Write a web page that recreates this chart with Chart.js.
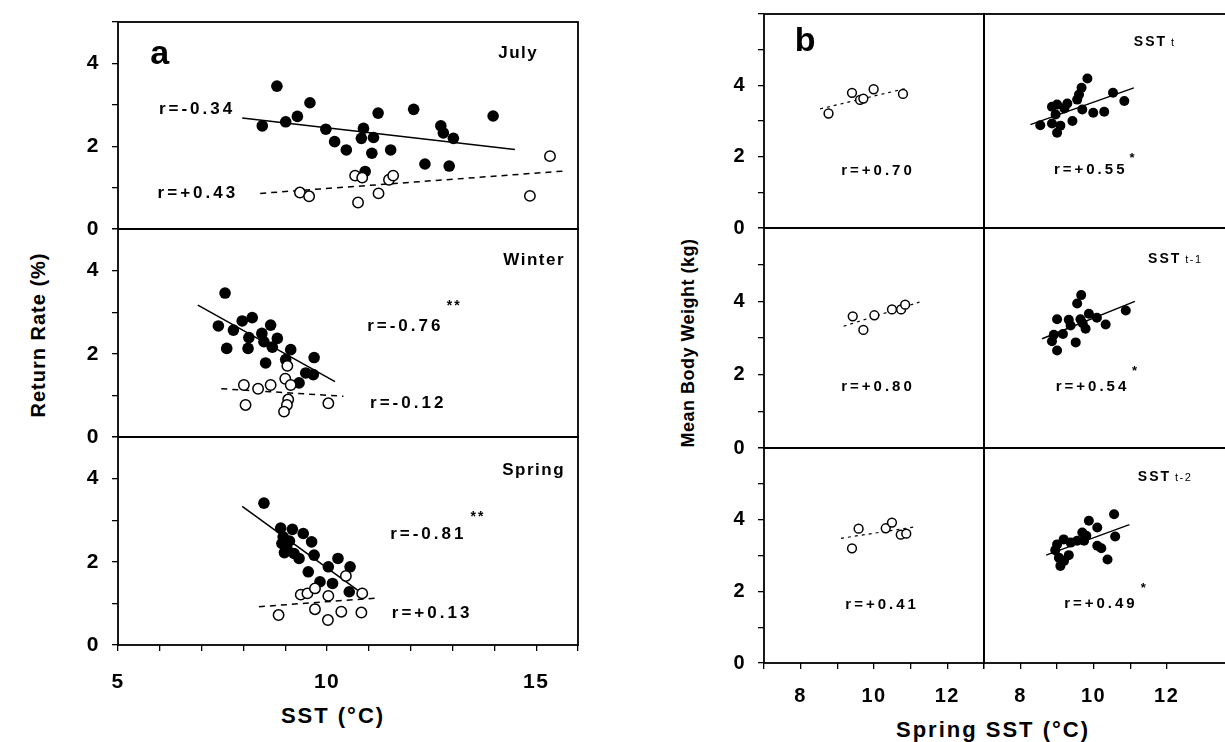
<!DOCTYPE html>
<html>
<head>
<meta charset="utf-8">
<script src="https://cdn.jsdelivr.net/npm/chart.js@4.4.1/dist/chart.umd.min.js"></script>
<style>
  body { margin: 0; background: #fff; }
  #fig { position: relative; width: 1225px; height: 742px; overflow: hidden; background: #fff;
         font-family: "Liberation Sans", Arial, sans-serif; font-weight: bold; color: #000; }
  #fig canvas { position: absolute; }
  .ttl { position: absolute; white-space: nowrap; }
</style>
</head>
<body>
<div id="fig">
  <div class="ttl" style="left:38px;top:335px;font-size:20px;letter-spacing:1px;transform:translate(-50%,-50%) rotate(-90deg)">Return Rate (%)</div>
  <div class="ttl" style="left:333px;top:716px;font-size:22px;letter-spacing:2px;transform:translate(-50%,-50%)">SST (°C)</div>
  <div class="ttl" style="left:688px;top:343px;font-size:18px;letter-spacing:0.5px;transform:translate(-50%,-50%) rotate(-90deg)">Mean Body Weight (kg)</div>
  <div class="ttl" style="left:993px;top:730px;font-size:22px;letter-spacing:2px;transform:translate(-50%,-50%)">Spring SST (°C)</div>
</div>
<script>
// ---------- panel a : return rate vs SST ----------
const julyFillX = [8.80, 8.45, 9.01, 9.29, 9.59, 9.97, 10.18, 10.46, 10.87, 10.82, 11.11, 11.22, 11.07, 11.52, 10.91, 12.07, 12.34, 12.72, 12.78, 13.02, 12.92, 13.97];
const julyFillY = [3.45, 2.49, 2.59, 2.72, 3.05, 2.41, 2.11, 1.91, 2.43, 2.19, 2.21, 2.80, 1.83, 1.91, 1.39, 2.89, 1.57, 2.49, 2.32, 2.19, 1.52, 2.73];
const julyOpenX = [9.35, 9.57, 10.67, 10.84, 10.74, 11.23, 11.48, 11.58, 14.85, 15.33];
const julyOpenY = [0.88, 0.79, 1.29, 1.24, 0.64, 0.86, 1.19, 1.29, 0.80, 1.76];
const julyLineFX = [7.97, 14.49], julyLineFY = [2.68, 1.92];
const julyLineOX = [8.40, 15.67], julyLineOY = [0.86, 1.40];

const winterFillX = [7.56, 7.40, 7.76, 7.97, 8.21, 7.60, 8.13, 8.11, 8.44, 8.65, 8.49, 8.81, 8.69, 8.53, 9.13, 9.01, 9.33, 9.49, 9.67, 9.69];
const winterFillY = [3.46, 2.67, 2.57, 2.79, 2.87, 2.13, 2.39, 2.13, 2.49, 2.69, 2.29, 2.37, 2.16, 1.78, 2.10, 1.86, 1.30, 1.54, 1.50, 1.91];
const winterOpenX = [8.01, 8.35, 8.65, 8.05, 9.00, 9.05, 9.13, 9.07, 9.04, 8.97, 10.03];
const winterOpenY = [1.25, 1.16, 1.25, 0.77, 1.40, 1.71, 1.25, 0.90, 0.77, 0.61, 0.81];
const winterLineFX = [6.91, 10.19], winterLineFY = [3.17, 1.33];
const winterLineOX = [7.47, 10.39], winterLineOY = [1.16, 0.98];

const springFillX = [8.49, 8.89, 9.17, 9.43, 8.95, 8.92, 9.04, 9.33, 9.21, 9.63, 9.69, 9.55, 10.03, 10.26, 10.55, 9.83, 10.13, 10.53, 9.10, 8.98];
const springFillY = [3.41, 2.81, 2.78, 2.68, 2.60, 2.44, 2.32, 2.08, 2.20, 2.48, 2.16, 1.76, 1.88, 2.08, 1.88, 1.52, 1.48, 1.28, 2.50, 2.22];
const springOpenX = [9.37, 9.53, 9.71, 10.03, 10.45, 10.84, 8.84, 9.71, 10.02, 10.34, 10.82];
const springOpenY = [1.21, 1.24, 1.36, 1.18, 1.66, 1.24, 0.72, 0.86, 0.60, 0.80, 0.78];
const springLineFX = [7.97, 10.73], springLineFY = [3.33, 1.32];
const springLineOX = [8.37, 11.20], springLineOY = [0.92, 1.13];

// ---------- panel b : body weight vs spring SST ----------
const bOpen0X = [8.76, 9.40, 9.62, 9.71, 9.99, 10.79], bOpen0Y = [3.21, 3.79, 3.59, 3.63, 3.89, 3.76];
const bOpen1X = [9.42, 9.71, 10.01, 10.49, 10.74, 10.85], bOpen1Y = [3.59, 3.22, 3.62, 3.78, 3.78, 3.91];
const bOpen2X = [9.40, 9.58, 10.32, 10.49, 10.73, 10.88], bOpen2Y = [3.20, 3.75, 3.76, 3.92, 3.58, 3.61];
const bLineO0X = [8.53, 10.94], bLineO0Y = [3.34, 3.93];
const bLineO1X = [9.17, 11.24], bLineO1Y = [3.32, 3.98];
const bLineO2X = [9.10, 11.13], bLineO2Y = [3.48, 3.80];

const bFill0X = [8.54, 8.86, 9.00, 9.28, 8.96, 8.86, 9.00, 9.09, 9.42, 9.55, 9.60, 9.67, 9.83, 9.69, 9.99, 10.29, 10.53, 10.84, 9.20];
const bFill0Y = [2.88, 3.40, 3.46, 3.49, 3.18, 2.93, 2.67, 2.87, 3.00, 3.60, 3.74, 3.93, 4.19, 3.32, 3.23, 3.26, 3.79, 3.56, 3.35];
const bFill1X = [8.86, 8.91, 9.00, 9.00, 9.16, 9.32, 9.37, 9.51, 9.55, 9.66, 9.64, 9.78, 9.87, 10.09, 10.33, 10.88, 9.70];
const bFill1Y = [2.91, 3.09, 2.66, 3.51, 3.11, 3.50, 3.34, 2.88, 3.94, 4.17, 3.51, 3.25, 3.66, 3.55, 3.37, 3.75, 3.40];
const bFill2X = [9.09, 9.05, 9.19, 9.00, 9.18, 9.32, 9.37, 9.55, 9.69, 9.74, 9.87, 10.10, 10.10, 10.21, 10.38, 10.56, 10.59, 9.80, 8.95];
const bFill2Y = [2.71, 2.94, 2.85, 3.31, 3.45, 3.01, 3.36, 3.41, 3.64, 3.41, 3.97, 3.78, 3.27, 3.20, 2.89, 4.15, 3.53, 3.55, 3.15];
const bLineF0X = [8.27, 11.10], bLineF0Y = [2.90, 3.93];
const bLineF1X = [8.59, 11.13], bLineF1Y = [2.98, 4.00];
const bLineF2X = [8.70, 10.98], bLineF2Y = [3.01, 3.86];

const aTickLabelsX = [5, 10, 15];
const aTickLabelsY = [0, 2, 4];
const bTickLabelsX = [8, 10, 12];
const bTickLabelsY = [0, 2, 4];

// ---------- layout ----------
const FONT = '"Liberation Sans", Arial, Helvetica, sans-serif';
const fig = document.getElementById('fig');
const aLeft = 118, aRight = 578, aTops = [22, 229, 437, 645];
const bCols = [[764, 984, 7, 13], [984, 1227, 7, 13.65]];
const bTops = [14, 228, 448, 663];

const pts = (xs, ys) => xs.map((x, i) => ({ x: x, y: ys[i] }));

const framePlugin = {
    id: 'frame',
    beforeLayout(chart, args, o) { chart.ctx.letterSpacing = o.spacing + 'px'; },
    beforeDraw(chart, args, o) { chart.ctx.letterSpacing = o.spacing + 'px'; },
    afterDraw(chart, args, o) {
        const ctx = chart.ctx, a = chart.chartArea;
        ctx.save();
        ctx.strokeStyle = '#000';
        ctx.lineWidth = 1.8;
        ctx.strokeRect(a.left, a.top, a.right - a.left, a.bottom - a.top);
        ctx.fillStyle = '#000';
        ctx.textBaseline = 'middle';
        (o.notes || []).forEach(n => {
            const px = chart.scales.x.getPixelForValue(n.x);
            const py = chart.scales.y.getPixelForValue(n.y);
            ctx.font = 'bold ' + n.size + 'px ' + FONT;
            ctx.letterSpacing = (n.sp || 0) + 'px';
            ctx.textAlign = n.align || 'center';
            ctx.fillText(n.t, px, py);
            if (n.sub) {
                const w = ctx.measureText(n.t).width;
                ctx.font = n.subSize + 'px ' + FONT;
                ctx.letterSpacing = '1.5px';
                ctx.textAlign = 'left';
                ctx.fillText(n.sub, px + w + 4, py + 1);
            }
        });
        ctx.restore();
    }
};

function lineSet(xs, ys, dash, w) {
    return { data: pts(xs, ys), showLine: true, pointRadius: 0, borderColor: '#000',
             borderWidth: w, borderDash: dash, fill: false, order: 2 };
}

function makeChart(c) {
    const L = 110, R = 12, T = 12, B = c.showX ? 70 : 22;
    const W = c.right - c.left, H = c.bottom - c.top;
    const cv = document.createElement('canvas');
    cv.width = W + L + R; cv.height = H + T + B;
    cv.style.left = (c.left - L) + 'px'; cv.style.top = (c.top - T) + 'px';
    cv.style.width = cv.width + 'px'; cv.style.height = cv.height + 'px';
    fig.appendChild(cv);

    const sets = [];
    if (c.openX) sets.push({ data: pts(c.openX, c.openY), pointRadius: c.r - 0.6, pointBorderWidth: 1.5,
        pointBackgroundColor: '#fff', pointBorderColor: '#000', order: 0 });
    if (c.fillX) sets.push({ data: pts(c.fillX, c.fillY), pointRadius: c.r, pointBorderWidth: 0,
        pointBackgroundColor: '#000', pointBorderColor: '#000', order: 1 });
    (c.lines || []).forEach(l => sets.push(lineSet(l[0], l[1], l[2], c.lw)));

    const tickFont = { family: FONT, size: c.tickSize, weight: 'bold' };
    const grid = { drawOnChartArea: false, drawTicks: true, tickLength: 6, color: '#000', lineWidth: 1.3 };

    return new Chart(cv, {
        type: 'scatter',
        data: { datasets: sets },
        options: {
            responsive: false, animation: false, devicePixelRatio: 1,
            events: [],
            layout: { padding: { left: c.showY ? 0 : L, right: R, top: T, bottom: c.showX ? 0 : B } },
            plugins: { legend: { display: false }, tooltip: { enabled: false },
                       frame: { notes: c.notes, spacing: 1.5 } },
            scales: {
                x: {
                    type: 'linear', min: c.xMin, max: c.xMax, display: c.showX,
                    afterFit: s => { if (c.showX) s.height = B; s.paddingLeft = 0; s.paddingRight = 0; },
                    ticks: { stepSize: 1, autoSkip: false, maxRotation: 0, padding: c.xPad, color: '#000', font: tickFont,
                             callback: v => c.xLabels.includes(v) && v < c.xMax ? String(v) : '' },
                    grid: grid, border: { display: false }
                },
                y: {
                    type: 'linear', min: c.yMin, max: c.yMax, display: c.showY,
                    afterFit: s => { if (c.showY) s.width = L; s.paddingTop = 0; s.paddingBottom = 0; },
                    ticks: { stepSize: 1, autoSkip: false, padding: 12, color: '#000', font: tickFont,
                             callback: v => c.yLabels.includes(v) && v < c.yMax ? String(v) : '' },
                    grid: grid, border: { display: false }
                }
            }
        },
        plugins: [framePlugin]
    });
}

// panel a notes (placed in data units of each sub-plot)
const aNotes = [
    [ { t: 'a', x: 6.0, y: 4.2, size: 34 },
      { t: 'July', x: 15.05, y: 4.25, size: 17, sp: 1.5, align: 'right' },
      { t: 'r=-0.34', x: 6.89, y: 2.90, size: 17, sp: 3 },
      { t: 'r=+0.43', x: 6.91, y: 0.86, size: 17, sp: 3 } ],
    [ { t: 'Winter', x: 15.69, y: 4.24, size: 17, sp: 1.5, align: 'right' },
      { t: 'r=-0.76', x: 11.87, y: 2.66, size: 17, sp: 3 },
      { t: '**', x: 13.04, y: 3.14, size: 14, sp: 2 },
      { t: 'r=-0.12', x: 11.94, y: 0.81, size: 17, sp: 3 } ],
    [ { t: 'Spring', x: 15.69, y: 4.19, size: 17, sp: 1.5, align: 'right' },
      { t: 'r=-0.81', x: 12.42, y: 2.65, size: 17, sp: 3 },
      { t: '**', x: 13.61, y: 3.08, size: 14, sp: 2 },
      { t: 'r=+0.13', x: 12.51, y: 0.75, size: 17, sp: 3 } ]
];
const aSeries = [
    [julyFillX, julyFillY, julyOpenX, julyOpenY, [julyLineFX, julyLineFY, []], [julyLineOX, julyLineOY, [6, 5]]],
    [winterFillX, winterFillY, winterOpenX, winterOpenY, [winterLineFX, winterLineFY, []], [winterLineOX, winterLineOY, [6, 5]]],
    [springFillX, springFillY, springOpenX, springOpenY, [springLineFX, springLineFY, []], [springLineOX, springLineOY, [6, 5]]]
];
aSeries.forEach((s, i) => {
    makeChart({
        left: aLeft, right: aRight, top: aTops[i], bottom: aTops[i + 1],
        xMin: 5, xMax: 16, yMin: 0, yMax: 5, showX: i === 2, showY: true,
        xLabels: aTickLabelsX, yLabels: aTickLabelsY, tickSize: 21, xPad: 19,
        fillX: s[0], fillY: s[1], openX: s[2], openY: s[3], lines: [s[4], s[5]],
        r: 5.8, lw: 1.5, notes: aNotes[i]
    });
});

// panel b
const bLeftNotes = [
    [ { t: 'b', x: 8.12, y: 5.22, size: 34 }, { t: 'r=+0.70', x: 10.11, y: 1.60, size: 15, sp: 3 } ],
    [ { t: 'r=+0.80', x: 10.11, y: 1.68, size: 15, sp: 3 } ],
    [ { t: 'r=+0.41', x: 10.22, y: 1.63, size: 15, sp: 3 } ]
];
const bRightNotes = [
    [ { t: 'SST', x: 11.10, y: 5.22, size: 14, sp: 2, align: 'left', sub: 't', subSize: 11 },
      { t: 'r=+0.55', x: 9.92, y: 1.64, size: 15, sp: 3 }, { t: '*', x: 11.05, y: 1.95, size: 13 } ],
    [ { t: 'SST', x: 11.49, y: 5.15, size: 14, sp: 2, align: 'left', sub: 't-1', subSize: 11 },
      { t: 'r=+0.54', x: 9.97, y: 1.68, size: 15, sp: 3 }, { t: '*', x: 11.12, y: 2.10, size: 13 } ],
    [ { t: 'SST', x: 11.21, y: 5.20, size: 14, sp: 2, align: 'left', sub: 't-2', subSize: 11 },
      { t: 'r=+0.49', x: 10.20, y: 1.66, size: 15, sp: 3 }, { t: '*', x: 11.36, y: 2.07, size: 13 } ]
];
const bOpenSeries = [[bOpen0X, bOpen0Y, bLineO0X, bLineO0Y], [bOpen1X, bOpen1Y, bLineO1X, bLineO1Y], [bOpen2X, bOpen2Y, bLineO2X, bLineO2Y]];
const bFillSeries = [[bFill0X, bFill0Y, bLineF0X, bLineF0Y], [bFill1X, bFill1Y, bLineF1X, bLineF1Y], [bFill2X, bFill2Y, bLineF2X, bLineF2Y]];

for (let i = 0; i < 3; i++) {
    const o = bOpenSeries[i], f = bFillSeries[i];
    makeChart({
        left: bCols[0][0], right: bCols[0][1], top: bTops[i], bottom: bTops[i + 1],
        xMin: bCols[0][2], xMax: bCols[0][3], yMin: 0, yMax: 6, showX: i === 2, showY: true,
        xLabels: bTickLabelsX, yLabels: bTickLabelsY, tickSize: 20, xPad: 15,
        openX: o[0], openY: o[1], lines: [[o[2], o[3], [3, 4]]],
        r: 5, lw: 1.2, notes: bLeftNotes[i]
    });
    makeChart({
        left: bCols[1][0], right: bCols[1][1], top: bTops[i], bottom: bTops[i + 1],
        xMin: bCols[1][2], xMax: bCols[1][3], yMin: 0, yMax: 6, showX: i === 2, showY: false,
        xLabels: bTickLabelsX, yLabels: [], tickSize: 20, xPad: 15,
        fillX: f[0], fillY: f[1], lines: [[f[2], f[3], []]],
        r: 5, lw: 1.4, notes: bRightNotes[i]
    });
}
</script>
</body>
</html>
